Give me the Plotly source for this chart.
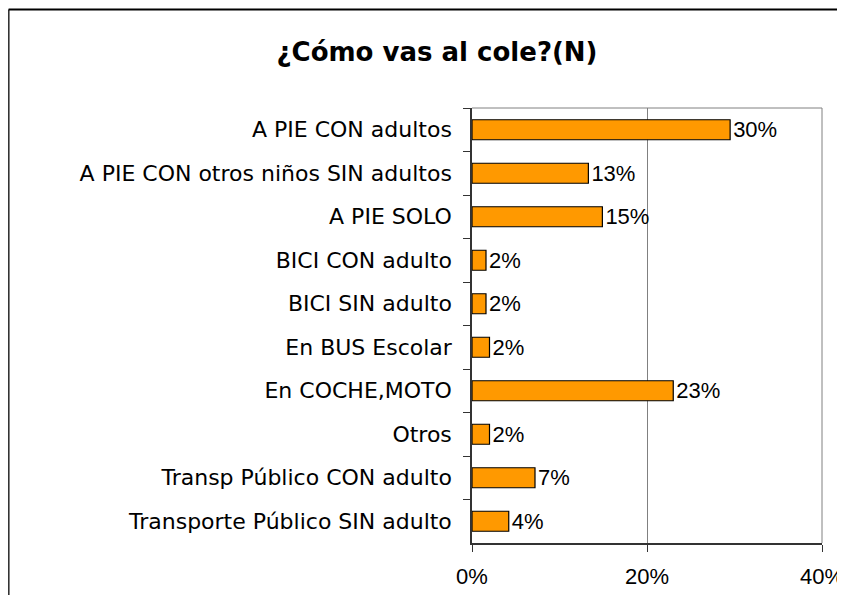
import plotly.graph_objects as go

categories = [
    "A PIE CON adultos",
    "A PIE CON otros niños SIN adultos",
    "A PIE SOLO",
    "BICI CON adulto",
    "BICI SIN adulto",
    "En BUS Escolar",
    "En COCHE,MOTO",
    "Otros",
    "Transp Público CON adulto",
    "Transporte Público SIN adulto",
]
values = [29.5, 13.3, 14.9, 1.6, 1.6, 2.0, 23.0, 2.0, 7.2, 4.2]
x_ticks = [0, 20, 40]
x_tick_labels = ["0%", "20%", "40%"]
title_text = "¿Cómo vas al cole?(N)"

# page is offset by the 8px body margin
W, H = 837, 587
L, R, T, B = 464, 23, 100, 52
pw, ph = W - L - R, H - T - B

label_font = "DejaVu Sans, sans-serif"
arial = "Arial, Liberation Sans, sans-serif"

fig = go.Figure(go.Bar(
    x=values, y=categories, orientation="h",
    marker=dict(color="#FF9900", line=dict(color="#000000", width=1.2)),
    texttemplate="%{x:.0f}%", textposition="outside", constraintext="none",
    textfont=dict(family=arial, size=22, color="#000"),
    cliponaxis=False,
))

fig.update_layout(
    width=W, height=H,
    margin=dict(l=L, r=R, t=T, b=B, autoexpand=False),
    paper_bgcolor="white", plot_bgcolor="white",
    bargap=0.54,
    showlegend=False,
    title=dict(text="<b>" + title_text + "</b>", x=429 / W, xanchor="center",
               y=1 - 44 / H, yanchor="middle",
               font=dict(family=label_font, size=26, color="#000")),
    xaxis=dict(range=[0, 40], tickmode="array", tickvals=x_ticks, ticktext=x_tick_labels,
               automargin=False, ticklabeloverflow="allow",
               showgrid=True, gridcolor="#808080", gridwidth=1,
               showline=True, linecolor="#333", linewidth=1.5,
               ticks="outside", ticklen=7, tickcolor="#333",
               ticklabelstandoff=6,
               tickfont=dict(family=arial, size=22, color="#000"),
               zeroline=False, fixedrange=True),
    yaxis=dict(autorange="reversed", automargin=False,
               showline=True, linecolor="#333", linewidth=1.5,
               ticks="outside", ticklen=7, tickcolor="#333", tickson="boundaries",
               ticklabelstandoff=14,
               tickfont=dict(family=label_font, size=22, color="#000"),
               showgrid=False, fixedrange=True),
)

# plot frame (top and right, gray)
fig.add_shape(type="line", xref="paper", yref="paper", x0=0, x1=1, y0=1, y1=1,
              line=dict(color="#808080", width=1))
fig.add_shape(type="line", xref="paper", yref="paper", x0=1, x1=1, y0=0, y1=1,
              line=dict(color="#808080", width=1))

# outer chart border (left and top visible)
lx = (0.6 - L) / pw
ty = (H - B - 1.5) / ph
fig.add_shape(type="line", xref="paper", yref="paper", x0=lx, x1=lx, y0=-0.3, y1=ty,
              line=dict(color="#333", width=2))
fig.add_shape(type="line", xref="paper", yref="paper", x0=lx, x1=1.2, y0=ty, y1=ty,
              line=dict(color="#000", width=2))

fig.write_html("out.html")
